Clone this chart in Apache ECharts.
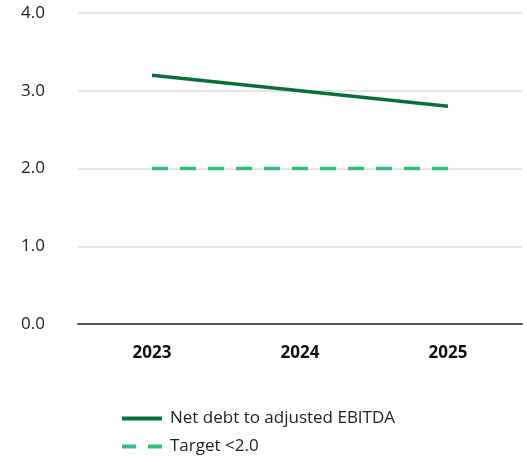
<!DOCTYPE html>
<html>
<head>
<meta charset="utf-8">
<script src="https://cdn.jsdelivr.net/npm/echarts@6/dist/echarts.min.js"></script>
<style>
  html, body { margin: 0; padding: 0; background: #fff; }
  #chart { width: 527px; height: 462px; }
</style>
</head>
<body>
<div id="chart"></div>
<script>
// chart data
var years = ["2023", "2024", "2025"];
var netDebt = [3.2, 3.0, 2.8];
var target = [2.0, 2.0, 2.0];
var yTicks = [0, 1, 2, 3, 4];

var font = '"Open Sans", sans-serif';
var chart = echarts.init(document.getElementById('chart'));

var option = {
    animation: false,
    textStyle: { fontFamily: font },
    grid: { left: 78, right: 5, top: 13, bottom: 138 },
    legend: {
        orient: 'vertical',
        left: 122,
        top: 410,
        padding: 0,
        itemWidth: 40,
        itemHeight: 4,
        itemGap: 11,
        textStyle: { fontSize: 17, color: '#222', fontFamily: font, padding: [0, 0, 0, 3] },
        data: [
            { name: 'Net debt to adjusted EBITDA', icon: 'path://M0,0h40v4h-40z' },
            { name: 'Target <2.0', icon: 'path://M0,0h14v4h-14zM26,0h14v4h-14z' }
        ]
    },
    xAxis: {
        type: 'category',
        data: years,
        boundaryGap: true,
        axisLine: { lineStyle: { color: '#555', width: 2 } },
        axisTick: { show: false },
        axisLabel: { fontSize: 17, fontWeight: 'bold', color: '#111', margin: 21 }
    },
    yAxis: {
        type: 'value',
        min: yTicks[0],
        max: yTicks[yTicks.length - 1],
        interval: 1,
        axisLine: { show: false },
        axisTick: { show: false },
        axisLabel: {
            fontSize: 17, color: '#222', margin: 33,
            formatter: function (v) { return v.toFixed(1); }
        },
        splitLine: { lineStyle: { color: '#e6e6e6', width: 2 } }
    },
    series: [
        {
            name: 'Net debt to adjusted EBITDA',
            type: 'line',
            data: netDebt,
            symbol: 'none',
            itemStyle: { color: '#08703f' },
            lineStyle: { color: '#08703f', width: 3.5 }
        },
        {
            name: 'Target <2.0',
            type: 'line',
            data: target,
            symbol: 'none',
            itemStyle: { color: '#2ec27e' },
            lineStyle: { color: '#2ec27e', width: 3.5, type: [16, 12] }
        }
    ]
};

chart.setOption(option);
</script>
</body>
</html>
